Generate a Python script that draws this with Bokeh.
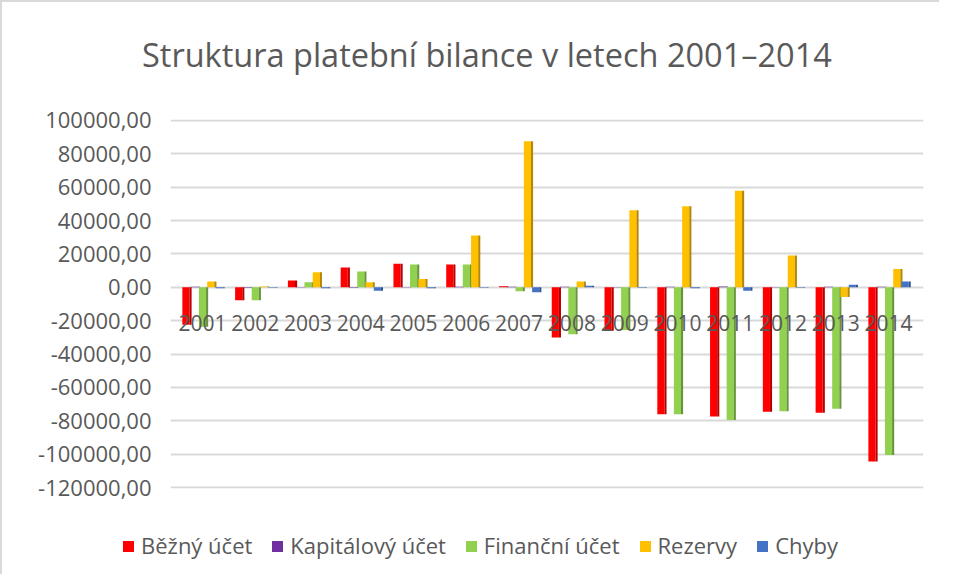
from bokeh.plotting import figure
from bokeh.layouts import column
from bokeh.models import (ColumnDataSource, Range1d, FixedTicker, CustomJSTickFormatter, Div)
from bokeh.transform import dodge
from bokeh.core.properties import value
from bokeh.embed import file_html
from bokeh.resources import INLINE

years = [2001, 2002, 2003, 2004, 2005, 2006, 2007, 2008, 2009, 2010, 2011, 2012, 2013, 2014]
year_labels = [str(y) for y in years]
bezny = [-22500, -7800, 4000, 11800, 14100, 13700, 600, -30000, -26000, -76000, -77400, -74500, -75200, -104300]
kapital = [300, -200, 200, -300, 200, 300, 400, 300, 200, 300, 500, 200, 300, 400]
financni = [-23600, -7800, 3000, 9400, 13700, 13700, -2300, -28100, -25600, -76100, -79400, -74200, -72700, -100500]
rezervy = [3500, 500, 9000, 3100, 4900, 31000, 87500, 3500, 46200, 48500, 57800, 19000, -5800, 10900]
chyby = [-500, -300, -500, -2000, -600, -300, -3000, 1000, -300, -500, -2000, -300, 1500, 3500]
series_names = ["Běžný účet", "Kapitálový účet", "Finanční účet", "Rezervy", "Chyby"]
y_ticks = [-120000, -100000, -80000, -60000, -40000, -20000, 0, 20000, 40000, 60000, 80000, 100000]
title_text = "Struktura platební bilance v letech 2001–2014"

colors = ["#FF0000", "#7030A0", "#92D050", "#FFC000", "#4472C4"]
side_colors = ["#B80000", "#4A1F6E", "#66963A", "#B58800", "#2E5395"]
keys = ["bezny", "kapital", "financni", "rezervy", "chyby"]

src = ColumnDataSource(dict(year=years, label=year_labels, bezny=bezny, kapital=kapital,
                            financni=financni, rezervy=rezervy, chyby=chyby))

FONT = "Open Sans"
GRAY = "#595959"
BORDER = "2px solid #d9d9d9"

# title strip
title_html = (f'<div style="padding-top:30px;padding-left:140px;line-height:normal;'
              f'white-space:nowrap;font-family:\'{FONT}\';font-size:32.5px;color:{GRAY};">'
              f'{title_text}</div>')
title_div = Div(text=title_html, width=939, height=92, margin=0,
                styles={"border-left": BORDER, "border-top": BORDER})

p = figure(width=939, height=426, output_backend="svg", toolbar_location=None,
           x_range=Range1d(2000.394, 2014.663), y_range=Range1d(-120500, 100500),
           min_border_left=168, min_border_right=18, min_border_top=27, min_border_bottom=30)
p.outline_line_color = None
p.background_fill_color = "white"
p.border_fill_color = "white"
p.styles = {"border-left": BORDER}

p.xaxis.visible = False
p.xgrid.visible = False
p.ygrid.grid_line_color = "#d9d9d9"
p.ygrid.grid_line_width = 2
p.yaxis.ticker = FixedTicker(ticks=y_ticks)
p.yaxis.formatter = CustomJSTickFormatter(code="return tick.toFixed(2).replace('.', ',');")
p.yaxis.axis_line_color = None
p.yaxis.major_tick_line_color = None
p.yaxis.minor_tick_line_color = None
p.yaxis.major_label_text_font = FONT
p.yaxis.major_label_text_font_size = "22px"
p.yaxis.major_label_text_color = GRAY
p.yaxis.major_label_standoff = 13

step = 0.157
fw = 0.135
sw = 0.04
for i, (k, c, sc) in enumerate(zip(keys, colors, side_colors)):
    off = (i - 2) * step
    p.vbar(x=dodge("year", off, range=p.x_range), top=k, bottom=0, width=fw,
           source=src, fill_color=c, line_color=None)
    p.vbar(x=dodge("year", off + fw / 2 + sw / 2, range=p.x_range), top=k, bottom=0, width=sw,
           source=src, fill_color=sc, line_color=None)

p.text(x="year", y=0, text="label", source=src, text_align="center", text_baseline="middle",
       y_offset=36, text_font=value(FONT), text_font_size="21px", text_color=GRAY)

# legend strip below the chart
parts = []
for c, name in zip(colors, series_names):
    parts.append(
        f'<span style="display:inline-block;width:11px;height:11px;background:{c};'
        f'margin-right:7px;"></span>'
        f'<span style="margin-right:20px;white-space:nowrap;">{name}</span>')
html = ('<div style="display:flex;align-items:center;height:56px;padding-left:121px;'
        f'font-family:\'{FONT}\';font-size:22px;color:{GRAY};">' + "".join(parts) + '</div>')
legend_div = Div(text=html, width=939, height=56, margin=0,
                 styles={"padding": "0", "border-left": BORDER})

layout = column(title_div, p, legend_div, spacing=0)
open("out.html", "w").write(file_html(layout, INLINE))
